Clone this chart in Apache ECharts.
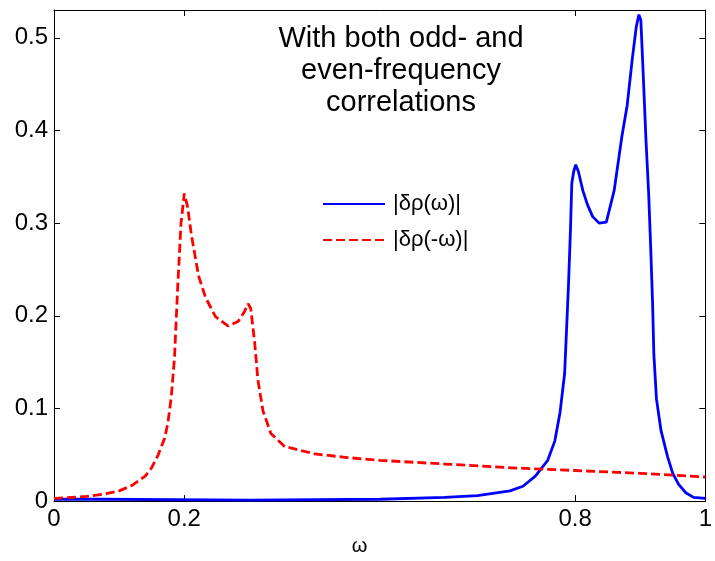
<!DOCTYPE html>
<html>
<head>
<meta charset="utf-8">
<script src="https://cdn.jsdelivr.net/npm/echarts@6/dist/echarts.min.js"></script>
<style>
  html, body { margin: 0; padding: 0; background: #fff; }
  #chart { width: 715px; height: 561px; }
</style>
</head>
<body>
<div id="chart"></div>
<script>
// |δρ(ω)| : positive-frequency response
const omegaPos = [0, 0.07, 0.071, 0.3, 0.5, 0.6, 0.65, 0.7, 0.72, 0.739, 0.758, 0.769, 0.777, 0.784, 0.787, 0.790, 0.793, 0.795, 0.798, 0.801,
  0.805, 0.812, 0.819, 0.827, 0.837, 0.848, 0.860, 0.872, 0.880, 0.888, 0.894, 0.898, 0.901, 0.904, 0.909, 0.913, 0.916,
  0.919, 0.921, 0.925, 0.932, 0.942, 0.950, 0.959, 0.970, 0.982, 1.0];
const rhoPos = [0.002, 0.002, 0.001, 0.001, 0.002, 0.004, 0.006, 0.011, 0.016, 0.027, 0.044, 0.065, 0.096, 0.138, 0.186, 0.235, 0.294, 0.343, 0.356, 0.363,
  0.356, 0.335, 0.320, 0.307, 0.300, 0.301, 0.335, 0.394, 0.427, 0.478, 0.512, 0.525, 0.519, 0.471, 0.388, 0.332, 0.276,
  0.214, 0.158, 0.110, 0.076, 0.048, 0.030, 0.018, 0.009, 0.004, 0.003];

// |δρ(-ω)| : negative-frequency response
const omegaNeg = [0, 0.05, 0.08, 0.10, 0.12, 0.14, 0.15, 0.16, 0.17, 0.175, 0.180, 0.185, 0.190, 0.195, 0.200, 0.205, 0.211, 0.222, 0.2325, 0.248,
  0.267, 0.283, 0.292, 0.298, 0.302, 0.308, 0.313, 0.321, 0.333, 0.354, 0.371, 0.40, 0.45, 0.5, 0.6, 0.7, 0.8, 0.9, 1.0];
const rhoNeg = [0.003, 0.005, 0.008, 0.011, 0.017, 0.027, 0.036, 0.050, 0.068, 0.085, 0.112, 0.155, 0.232, 0.300, 0.332, 0.318, 0.287, 0.243, 0.220, 0.199,
  0.189, 0.194, 0.204, 0.213, 0.208, 0.172, 0.131, 0.097, 0.073, 0.059, 0.056, 0.051, 0.047, 0.044, 0.040, 0.036, 0.033, 0.030, 0.026];

const xTicks = [0, 0.2, 0.8, 1];
const yTicks = [0, 0.1, 0.2, 0.3, 0.4, 0.5];
const seriesNames = ['|δρ(ω)|', '|δρ(-ω)|'];
const titleLines = ['With both odd- and', 'even-frequency', 'correlations'];

const pair = (xs, ys) => xs.map((x, i) => [x, ys[i]]);
const font = 'Liberation Sans, Arial, sans-serif';

const chart = echarts.init(document.getElementById('chart'), null, { renderer: 'canvas' });

const frameAxis = {
  axisLine: { show: true, onZero: false, lineStyle: { color: '#000', width: 1 } },
  splitLine: { show: false }
};
const tickStyle = values => ({ show: true, inside: true, length: 6, customValues: values, lineStyle: { color: '#000' } });

chart.setOption({
  animation: false,
  backgroundColor: '#fff',
  grid: { left: 54, right: 3, top: 10, bottom: 33, containLabel: false },
  title: {
    text: titleLines.join('\n'),
    left: 401, top: 23, textAlign: 'center', padding: 0,
    textStyle: { fontFamily: font, fontSize: 29, fontWeight: 'normal', color: '#000', lineHeight: 32 }
  },
  legend: {
    orient: 'vertical', left: 322, top: 193, padding: 0,
    itemWidth: 62, itemHeight: 14, itemGap: 14,
    data: seriesNames,
    itemStyle: { opacity: 0 },
    textStyle: { fontFamily: font, fontSize: 22, lineHeight: 22, color: '#000', padding: [0, 0, 0, 3] }
  },
  xAxis: [
    Object.assign({
      type: 'value', min: 0, max: 1, position: 'bottom',
      name: 'ω', nameLocation: 'middle', nameGap: 13,
      nameTextStyle: { fontFamily: font, fontSize: 20, color: '#000', padding: [0, 40, 0, 0] },
      axisTick: tickStyle(xTicks),
      axisLabel: { customValues: xTicks, fontFamily: font, fontSize: 24, color: '#000', margin: 6,
        formatter: v => String(v) }
    }, frameAxis),
    Object.assign({
      type: 'value', min: 0, max: 1, position: 'top',
      axisTick: tickStyle(xTicks),
      axisLabel: { show: false }
    }, frameAxis)
  ],
  yAxis: [
    Object.assign({
      type: 'value', min: 0, max: 0.53, position: 'left',
      axisTick: tickStyle(yTicks),
      axisLabel: { customValues: yTicks, fontFamily: font, fontSize: 24, color: '#000', margin: 6,
        formatter: v => String(v) }
    }, frameAxis),
    Object.assign({
      type: 'value', min: 0, max: 0.53, position: 'right',
      axisTick: tickStyle(yTicks),
      axisLabel: { show: false }
    }, frameAxis)
  ],
  series: [
    {
      name: seriesNames[0], type: 'line', xAxisIndex: 0, yAxisIndex: 0,
      data: pair(omegaPos, rhoPos), symbol: 'none', smooth: false,
      lineStyle: { color: '#0000ff', width: 2.8 }, itemStyle: { color: '#0000ff' }
    },
    {
      name: seriesNames[1], type: 'line', xAxisIndex: 0, yAxisIndex: 0,
      data: pair(omegaNeg, rhoNeg), symbol: 'none', smooth: false,
      lineStyle: { color: '#ff0000', width: 2.8, type: [9, 4] }, itemStyle: { color: '#ff0000' }
    }
  ]
});
</script>
</body>
</html>
